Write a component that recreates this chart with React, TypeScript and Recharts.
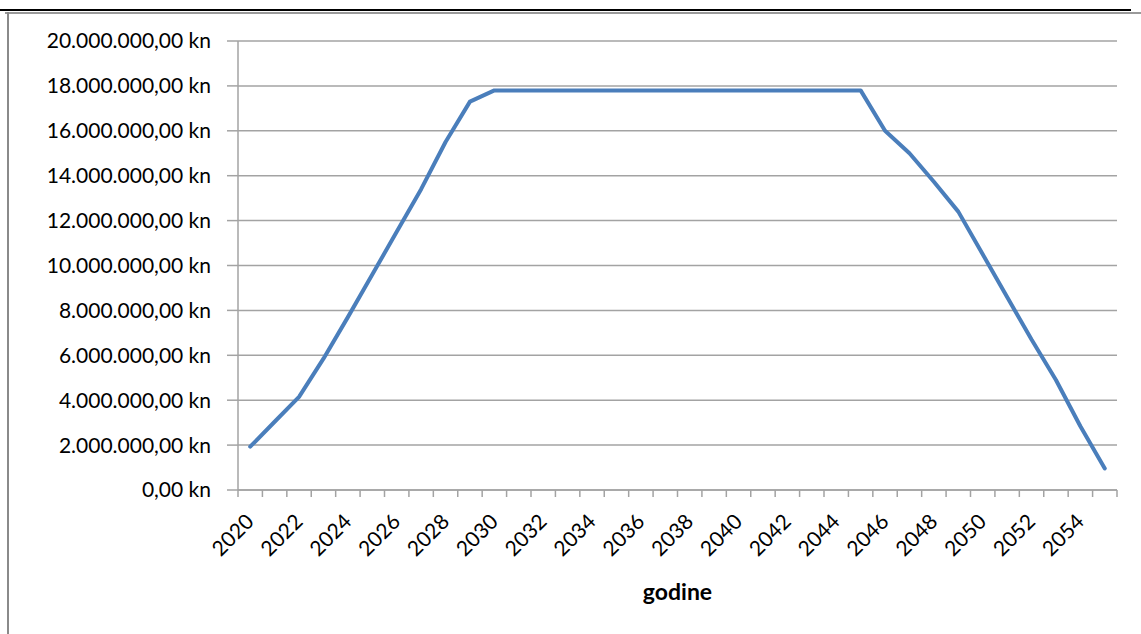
import { CartesianGrid, Label, Line, LineChart, XAxis, YAxis } from 'recharts';

const years = [
  2020, 2021, 2022, 2023, 2024, 2025, 2026, 2027, 2028, 2029, 2030, 2031, 2032, 2033, 2034, 2035,
  2036, 2037, 2038, 2039, 2040, 2041, 2042, 2043, 2044, 2045, 2046, 2047, 2048, 2049, 2050, 2051,
  2052, 2053, 2054, 2055,
];

const amounts = [
  1930000, 3040000, 4150000, 5850000, 7700000, 9600000, 11500000, 13400000, 15500000, 17300000,
  17800000, 17800000, 17800000, 17800000, 17800000, 17800000, 17800000, 17800000, 17800000,
  17800000, 17800000, 17800000, 17800000, 17800000, 17800000, 17800000, 16000000, 15000000,
  13730000, 12400000, 10500000, 8600000, 6700000, 4900000, 2840000, 960000,
];

const labelYears = [
  2020, 2022, 2024, 2026, 2028, 2030, 2032, 2034, 2036, 2038, 2040, 2042, 2044, 2046, 2048, 2050,
  2052, 2054,
];

const yTicks = [
  0, 2000000, 4000000, 6000000, 8000000, 10000000, 12000000, 14000000, 16000000, 18000000, 20000000,
];

const data = years.map((year, i) => ({ year, amount: amounts[i] }));

// category boundaries (Excel puts tick marks between categories) plus the label positions
const boundaries = [...years.map((y) => y - 0.5), years[years.length - 1] + 0.5];
const xTicks = [...boundaries, ...labelYears].sort((a, b) => a - b);

const GRID = '#a3a3a3';
const FONT = 'Lato, "Open Sans", sans-serif';

const formatKn = (v: number) =>
  v.toFixed(0).replace(/\B(?=(\d{3})+(?!\d))/g, '.') + ',00 kn';

function YearTick(props: any) {
  const { x, y, payload } = props;
  const v = payload.value as number;
  if (v % 1 !== 0) {
    return <line x1={x} x2={x} y1={y} y2={y + 7} stroke={GRID} strokeWidth={1.5} />;
  }
  return (
    <text
      transform={`translate(${x + 5},${y + 33}) rotate(-45)`}
      textAnchor="end"
      fill="#000"
      fontSize={21}
      fontFamily={FONT}
    >
      {v}
    </text>
  );
}

export default function App() {
  return (
    <div
      style={{
        position: 'absolute',
        left: 0,
        top: 0,
        width: 1141,
        height: 634,
        background: '#fff',
        overflow: 'hidden',
      }}
    >
      <div style={{ position: 'absolute', left: 0, top: 9, width: 1131, height: 2, background: '#000' }} />
      <div style={{ position: 'absolute', left: 5, top: 12, width: 1136, height: 2, background: '#9a9a9a' }} />
      <div style={{ position: 'absolute', left: 7, top: 12, width: 2, height: 622, background: '#8a8a8a' }} />
      <div style={{ position: 'absolute', left: 0, top: 0 }}>
        <LineChart
          width={1141}
          height={634}
          data={data}
          margin={{ top: 41, right: 24, left: 0, bottom: 0 }}
          style={{ fontFamily: FONT }}
        >
          <CartesianGrid vertical={false} stroke={GRID} strokeWidth={1.5} />
          <XAxis
            dataKey="year"
            type="number"
            domain={[2019.5, 2055.5]}
            ticks={xTicks}
            interval={0}
            tick={<YearTick />}
            tickLine={false}
            tickSize={0}
            tickMargin={0}
            height={144}
            axisLine={{ stroke: GRID, strokeWidth: 1.5 }}
          >
            <Label
              content={({ viewBox }: any) => (
                <text
                  x={viewBox.x + viewBox.width / 2}
                  y={viewBox.y + 110}
                  textAnchor="middle"
                  fontSize={23}
                  fontWeight="bold"
                  fontFamily={FONT}
                  fill="#000"
                >
                  godine
                </text>
              )}
            />
          </XAxis>
          <YAxis
            type="number"
            domain={[0, 20000000]}
            ticks={yTicks}
            width={238}
            tickFormatter={formatKn}
            tickSize={11}
            tickMargin={16}
            tick={{ fill: '#000', fontSize: 21, fontFamily: FONT }}
            tickLine={{ stroke: GRID, strokeWidth: 1.5 }}
            axisLine={{ stroke: GRID, strokeWidth: 1.5 }}
          />
          <Line
            type="linear"
            dataKey="amount"
            stroke="#4a7ebb"
            strokeWidth={4}
            strokeLinecap="round"
            strokeLinejoin="round"
            dot={false}
            isAnimationActive={false}
          />
        </LineChart>
      </div>
    </div>
  );
}
